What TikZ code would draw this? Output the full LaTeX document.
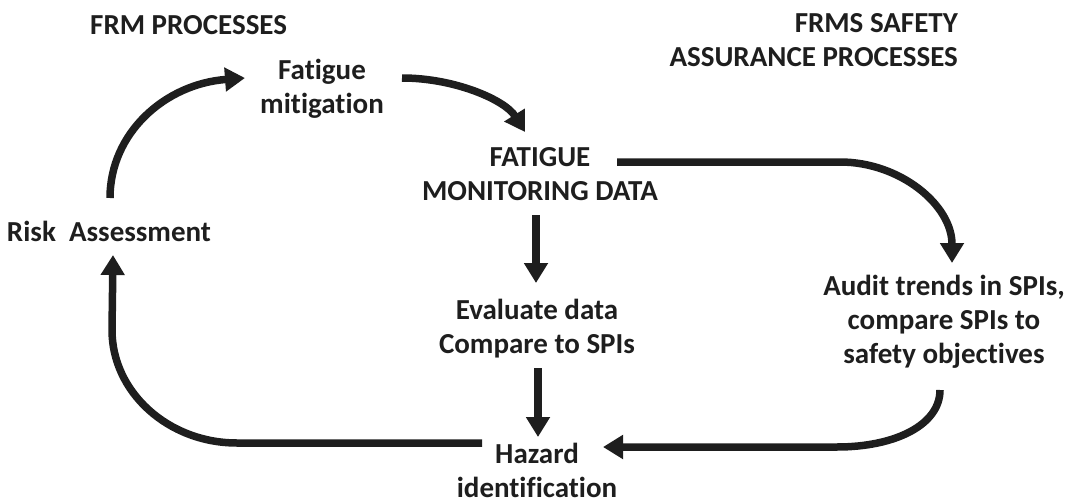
\documentclass[tikz,border=0pt]{standalone}
\usepackage{fontspec}
\setmainfont{Carlito}[Ligatures=NoCommon]
\usetikzlibrary{arrows.meta,calc}

\definecolor{ink}{HTML}{1E1E1E}

\tikzset{
  label text/.style={inner sep=0pt, align=center, text=ink,
    font=\fontsize{29}{34}\selectfont\bfseries},
  flow/.style={draw=ink, line width=7.5pt,
    -{Triangle[width=23pt,length=20pt]}},
}

\begin{document}
\begin{tikzpicture}[x=1pt, y=-1pt]
\useasboundingbox (0,0) rectangle (1076,503);

% headings
\node[label text, anchor=west] (frm) at (90,25) {FRM PROCESSES};
\node[label text, anchor=east, align=right] (frms) at (958,40)
  {FRMS SAFETY\\ASSURANCE PROCESSES};

% process steps
\node[label text] (fm)    at (322,89)  {Fatigue\\mitigation};
\node[label text] (fmd)   at (540,174) {FATIGUE\\MONITORING DATA};
\node[label text] (risk)  at (109,231) {Risk\ \ Assessment};
\node[label text] (eval)  at (537,329) {Evaluate data\\Compare to SPIs};
\node[label text] (audit) at (944,322)
  {Audit trends in SPIs,\\compare SPIs to\\safety objectives};
\node[label text] (haz)   at (537,470) {Hazard\\identification};

% risk assessment -> mitigation
\draw[flow] ($(risk)+(1,-33)$)
  .. controls +(0,-65) and +(-80,6) .. ($(fm)+(-77,-11)$);

% mitigation -> monitoring data
\draw[flow] ($(fm)+(80,-11)$)
  .. controls +(53,0) and +(-20,-32) .. ($(fmd)+(-15,-42)$);

% monitoring data -> audit of SPIs
\draw[flow] ($(fmd)+(77,-12)$) -- ++(223,0)
  .. controls +(60,0) and +(0,-58) .. ($(audit)+(8,-59)$);

% monitoring data -> evaluation
\draw[flow] ($(fmd)+(-4,41)$) -- ($(eval)+(-1,-46)$);

% evaluation -> hazard identification
\draw[flow] ($(eval)+(1,39)$) -- ($(haz)+(1,-33)$);

% hazard identification -> risk assessment
\draw[flow] ($(haz)+(-55,-27)$) -- ++(-245,0)
  .. controls +(-69,0) and +(0,62) .. ++(-125,-113)
  -- ($(risk)+(4,24)$);

% audit of SPIs -> hazard identification
\draw[flow] ($(audit)+(-4,68)$)
  .. controls +(0,35) and +(58,0) .. ++(-103,57)
  -- ($(haz)+(66,-23)$);
\end{tikzpicture}
\end{document}
